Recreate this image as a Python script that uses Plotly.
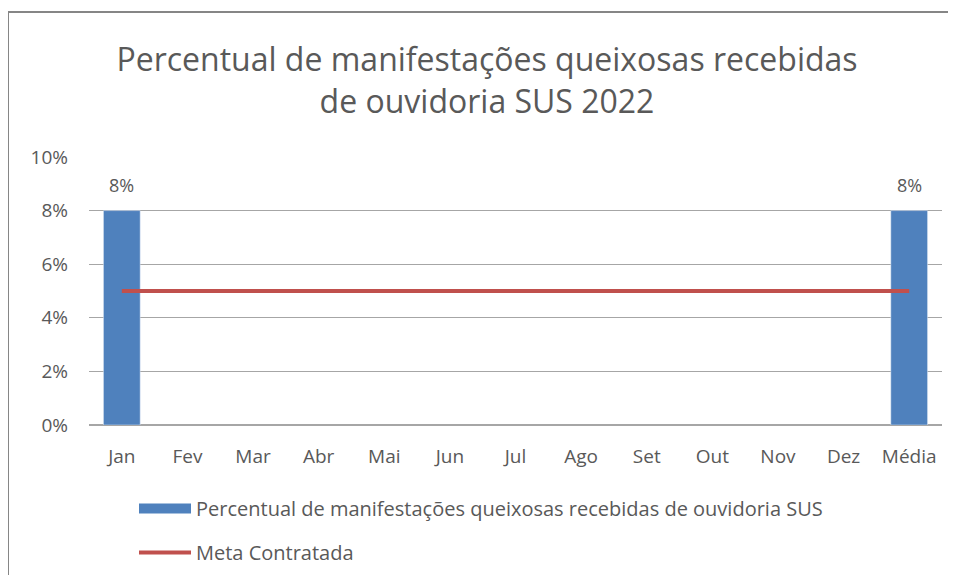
import plotly.graph_objects as go

categories = ["Jan", "Fev", "Mar", "Abr", "Mai", "Jun", "Jul", "Ago", "Set", "Out", "Nov", "Dez", "Média"]
queixas = [0.08, None, None, None, None, None, None, None, None, None, None, None, 0.08]
meta = [0.05] * 13
y_ticks = [0, 0.02, 0.04, 0.06, 0.08, 0.10]

serie_nome = "Percentual de manifestações queixosas recebidas de ouvidoria SUS"
meta_nome = "Meta Contratada"

BLUE = "#4F81BD"
RED = "#C0504D"
TXT = "#595959"
FONT = "Open Sans"

# page is offset by the browser's 8px body margin; keep the figure inside the window
OX, OY = 8, 8
W, H = 956 - 2 * OX, 583 - 2 * OY
L, T, B = 89 - OX, 157 - OY, (OY + H) - 425
R = (OX + W) - 942
pw, ph = W - L - R, H - T - B


def px_x(x):
    return (x - OX - L) / pw


def px_y(y):
    return (H - B - (y - OY)) / ph


fig = go.Figure()
fig.add_trace(go.Bar(
    x=categories, y=queixas, marker_color=BLUE, name=serie_nome, showlegend=False,
))
fig.add_trace(go.Scatter(
    x=categories, y=meta, mode="lines", line=dict(color=RED, width=4),
    name=meta_nome, showlegend=False,
))
# legend entries
fig.add_trace(go.Scatter(x=[None], y=[None], mode="lines", line=dict(color=BLUE, width=13),
                         name=serie_nome, legendgroup="a"))
fig.add_trace(go.Scatter(x=[None], y=[None], mode="lines", line=dict(color=RED, width=4),
                         name=meta_nome, legendgroup="b"))

annotations = []
for c, v in zip(categories, queixas):
    if v is not None:
        annotations.append(dict(x=c, y=v, xref="x", yref="y", text=f"{v:.0%}", showarrow=False,
                                yanchor="bottom", yshift=12, font=dict(size=18, color=TXT, family=FONT)))

border = dict(color="#868686", width=2)
fig.update_layout(
    width=W, height=H,
    margin=dict(l=L, r=R, t=T, b=B, autoexpand=False),
    paper_bgcolor="white", plot_bgcolor="white",
    font=dict(family=FONT, color=TXT, size=18),
    title=dict(text="Percentual de manifestações queixosas recebidas<br>de ouvidoria SUS 2022",
               x=(487 - OX) / W, xref="container", xanchor="center",
               y=1 - (71 - OY) / H, yref="container", yanchor="middle",
               font=dict(size=32, color=TXT, family=FONT)),
    bargap=0.44,
    showlegend=True,
    legend=dict(orientation="v", x=px_x(134), xanchor="left", y=px_y(489),
                yanchor="top", font=dict(size=20, color=TXT), tracegroupgap=15,
                itemwidth=52, bgcolor="rgba(0,0,0,0)"),
    annotations=annotations,
    shapes=[
        dict(type="line", xref="paper", yref="paper", x0=px_x(8), x1=px_x(8),
             y0=px_y(600), y1=px_y(11), line=border, layer="below"),
        dict(type="line", xref="paper", yref="paper", x0=px_x(7), x1=px_x(1000),
             y0=px_y(12), y1=px_y(12), line=border, layer="below"),
    ],
)
fig.update_xaxes(showgrid=False, showline=False, ticks="", tickfont=dict(size=19, color=TXT),
                 ticklabelstandoff=18)
fig.update_yaxes(range=[0, 0.10], tickvals=y_ticks, tickformat=".0%", showgrid=True,
                 gridcolor="#A6A6A6", gridwidth=1, zeroline=True, zerolinecolor="#A6A6A6",
                 showline=False, ticks="", tickfont=dict(size=19, color=TXT), ticklabelstandoff=20)

fig.write_html("out.html")
